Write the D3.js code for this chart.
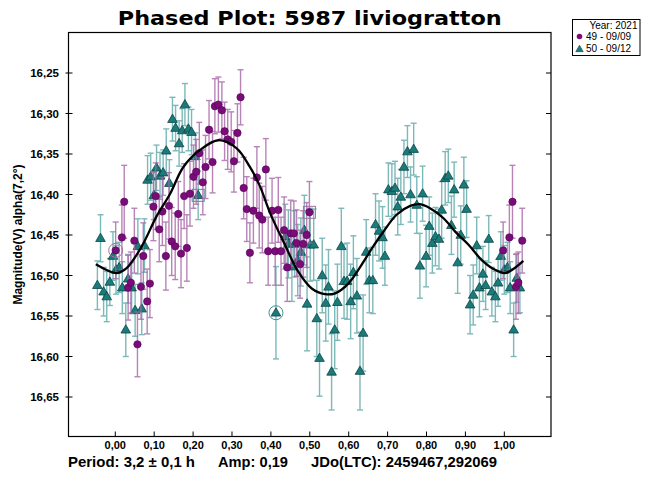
<!DOCTYPE html>
<html><head><meta charset="utf-8">
<script src="https://cdn.jsdelivr.net/npm/d3@7"></script>
<style>
html,body{margin:0;padding:0;background:#fff;}
text{font-family:"Liberation Sans",Arial,sans-serif;}
</style></head>
<body><svg id="c" width="649" height="478"></svg>
<script>
// ---- data ----
const titleText = "Phased Plot: 5987 liviogratton";
const yTicks = [16.25,16.30,16.35,16.40,16.45,16.50,16.55,16.60,16.65];
const xTicks = [0,0.1,0.2,0.3,0.4,0.5,0.6,0.7,0.8,0.9,1.0];
const legendTitle = "Year: 2021";
const seriesNames = ["49 - 09/09","50 - 09/12"];

// session 50 (teal triangles)
const phase50 = [-0.046,-0.038,-0.030,-0.022,-0.014,-0.006,0.002,0.010,0.018,0.027,0.033,0.042,0.051,0.058,0.068,0.075,0.083,0.091,0.099,0.106,0.115,0.123,0.131,0.139,0.147,0.155,0.164,0.172,0.179,0.188,0.196,0.206,0.213,
 0.413,0.437,0.445,0.454,0.461,0.469,0.477,0.486,0.493,0.501,0.510,0.518,0.525,0.532,0.541,0.548,0.556,0.564,0.571,0.581,0.588,0.596,0.605,0.612,0.621,0.629,0.637,0.645,0.653,0.662,0.669,0.678,0.687,0.693,0.702,0.711,0.719,0.726,0.734,0.742,0.751,0.759,0.767,0.775,0.783,0.790,0.799,0.807,0.815,0.823,0.832,0.839,0.848,0.856,0.864,0.871,0.880,0.888,0.896,0.903,0.912,0.920,0.929,0.936,0.945,0.952,0.960,0.968,0.977,0.984,0.991,1.000,1.008,1.015,1.024,1.032,1.040];
const mag50 = [16.512,16.454,16.520,16.526,16.508,16.476,16.493,16.490,16.515,16.567,16.504,16.515,16.543,16.464,16.541,16.463,16.382,16.378,16.401,16.367,16.377,16.373,16.346,16.386,16.307,16.318,16.337,16.321,16.289,16.319,16.323,16.353,16.401,
 16.546,16.452,16.461,16.489,16.461,16.481,16.471,16.444,16.535,16.462,16.462,16.553,16.602,16.500,16.534,16.514,16.619,16.567,16.533,16.464,16.507,16.507,16.532,16.496,16.525,16.618,16.571,16.471,16.506,16.506,16.437,16.445,16.453,16.476,16.394,16.396,16.392,16.415,16.403,16.366,16.347,16.400,16.344,16.413,16.488,16.399,16.476,16.439,16.460,16.452,16.455,16.419,16.380,16.377,16.438,16.394,16.484,16.450,16.388,16.418,16.536,16.524,16.463,16.515,16.498,16.512,16.455,16.520,16.526,16.509,16.476,16.493,16.490,16.515,16.567,16.503,16.515];
const err50 = [0.030,0.029,0.030,0.031,0.029,0.030,0.030,0.031,0.032,0.033,0.030,0.031,0.032,0.034,0.032,0.033,0.030,0.029,0.030,0.028,0.029,0.028,0.027,0.029,0.027,0.028,0.028,0.027,0.026,0.027,0.028,0.029,0.030,
 0.057,0.040,0.042,0.043,0.041,0.044,0.042,0.043,0.058,0.045,0.044,0.047,0.047,0.046,0.047,0.046,0.047,0.048,0.047,0.047,0.046,0.047,0.046,0.045,0.046,0.048,0.047,0.040,0.040,0.041,0.038,0.037,0.038,0.036,0.033,0.034,0.033,0.035,0.034,0.033,0.032,0.034,0.032,0.035,0.040,0.034,0.038,0.036,0.037,0.036,0.037,0.035,0.033,0.033,0.036,0.034,0.038,0.036,0.034,0.035,0.036,0.037,0.035,0.036,0.034,0.030,0.029,0.030,0.031,0.029,0.030,0.030,0.031,0.032,0.033,0.030,0.031];

// session 49 (purple circles)
const phase49 = [0.001,0.017,0.023,0.033,0.040,0.049,0.057,0.066,0.072,0.082,0.089,0.098,0.104,0.113,0.121,0.130,0.138,0.145,0.154,0.162,0.169,0.177,0.184,0.192,0.201,0.208,0.216,0.225,0.232,0.241,0.250,0.256,0.265,0.274,0.281,0.289,0.298,0.305,0.314,0.322,0.330,0.338,0.346,0.355,0.364,0.370,0.378,0.387,0.393,0.403,0.411,0.419,0.426,0.434,0.442,0.451,0.459,0.466,0.475,0.483,0.492,0.499,0.997,1.013,1.021,1.030,1.036,1.046];
const mag49 = [16.469,16.453,16.409,16.515,16.509,16.457,16.585,16.514,16.476,16.532,16.510,16.415,16.402,16.443,16.421,16.476,16.414,16.458,16.464,16.424,16.473,16.402,16.466,16.399,16.378,16.372,16.349,16.385,16.366,16.320,16.360,16.291,16.289,16.296,16.322,16.332,16.335,16.359,16.324,16.280,16.392,16.418,16.472,16.420,16.379,16.426,16.431,16.369,16.470,16.420,16.470,16.419,16.470,16.444,16.490,16.448,16.448,16.460,16.486,16.461,16.450,16.422,16.469,16.453,16.409,16.514,16.509,16.457];
const err49 = [0.035,0.040,0.045,0.040,0.038,0.040,0.040,0.040,0.041,0.040,0.042,0.042,0.041,0.040,0.042,0.042,0.041,0.042,0.041,0.040,0.042,0.040,0.041,0.040,0.039,0.040,0.038,0.040,0.039,0.036,0.038,0.034,0.034,0.035,0.036,0.037,0.037,0.038,0.036,0.034,0.038,0.040,0.037,0.040,0.038,0.040,0.041,0.038,0.042,0.040,0.042,0.040,0.042,0.041,0.042,0.041,0.040,0.041,0.042,0.041,0.040,0.038,0.035,0.040,0.045,0.040,0.038,0.040];

// highlighted points (index into arrays)
const ring49 = [0], square49 = [61];
const ring50 = [33], square50 = [32];

// fitted curve
const curvePhase = [-0.050,0.004,0.029,0.068,0.106,0.141,0.175,0.218,0.265,0.312,0.346,0.372,0.398,0.436,0.470,0.505,0.539,0.565,0.599,0.642,0.663,0.689,0.723,0.758,0.783,0.809,0.843,0.878,0.908,0.942,0.976,1.002,1.023,1.049];
const curveMag = [16.486,16.497,16.491,16.464,16.427,16.399,16.366,16.345,16.333,16.343,16.366,16.390,16.423,16.462,16.495,16.516,16.523,16.522,16.510,16.480,16.464,16.446,16.425,16.414,16.412,16.417,16.429,16.448,16.462,16.481,16.493,16.497,16.492,16.482];

const footer = ["Period: 3,2 \u00b1 0,1 h","Amp: 0,19","JDo(LTC): 2459467,292069"];

// ---- drawing ----
const svg = d3.select("#c");
const x = d3.scaleLinear().domain([-0.12,1.12]).range([68.6,551]);
const y = d3.scaleLinear().domain([16.20,16.70]).range([32.5,437.5]);
const fmt2 = v => d3.format(".2f")(v).replace(".", ",");

const L=68.5, R=551, T=32.5, B=436.5;

// title
svg.append("text").attr("x",(L+R)/2).attr("y",25).attr("text-anchor","middle")
  .style("font-family","'DejaVu Sans',sans-serif")
  .attr("font-size",19).attr("font-weight","bold").attr("fill","#000")
  .attr("textLength",384).attr("lengthAdjust","spacingAndGlyphs").text(titleText);

// axes ticks
const g = svg.append("g");
yTicks.forEach(v=>{
  g.append("line").attr("x1",L-3).attr("x2",L+4).attr("y1",y(v)).attr("y2",y(v)).attr("stroke","#000");
  g.append("line").attr("x1",R-5).attr("x2",R).attr("y1",y(v)).attr("y2",y(v)).attr("stroke","#000");
  g.append("text").attr("x",59).attr("y",y(v)).attr("dy","0.36em").attr("text-anchor","end")
   .attr("font-size",11.5).attr("font-weight","bold").text(fmt2(v));
});
xTicks.forEach(v=>{
  g.append("line").attr("x1",x(v)).attr("x2",x(v)).attr("y1",B).attr("y2",B-5).attr("stroke","#000");
  g.append("text").attr("x",x(v)).attr("y",449).attr("text-anchor","middle")
   .attr("font-size",11).attr("font-weight","bold").text(fmt2(v));
});

// y label
svg.append("text").attr("transform",`translate(22,${(T+B)/2}) rotate(-90)`).attr("text-anchor","middle")
  .attr("font-size",12).attr("font-weight","bold").text("Magnitude(V) alpha(7,2\u00b0)");

// series drawing helper
function drawSeries(ph, mg, er, barColor, isTri, fill, stroke, rings, squares, ringColor){
  const sg = svg.append("g");
  const d = ph.map((p,i)=>({p, m:mg[i], e:er[i], i}));
  const bars = sg.append("g").attr("stroke",barColor).attr("stroke-width",1.4).attr("opacity",0.8);
  d.forEach(o=>{
    const cx=x(o.p), y1=y(o.m-o.e), y2=y(o.m+o.e);
    bars.append("line").attr("x1",cx).attr("x2",cx).attr("y1",y1).attr("y2",y2);
    bars.append("line").attr("x1",cx-3).attr("x2",cx+3).attr("y1",y1).attr("y2",y1);
    bars.append("line").attr("x1",cx-3).attr("x2",cx+3).attr("y1",y2).attr("y2",y2);
  });
  const sym = d3.symbol().type(d3.symbolTriangle).size(40);
  d.forEach(o=>{
    if(isTri){
      sg.append("path").attr("d",sym()).attr("transform",`translate(${x(o.p)},${y(o.m)+0.5})`)
        .attr("fill",fill).attr("stroke",stroke).attr("stroke-width",0.8);
    } else {
      sg.append("circle").attr("cx",x(o.p)).attr("cy",y(o.m)).attr("r",3.7)
        .attr("fill",fill).attr("stroke",stroke).attr("stroke-width",0.6);
    }
  });
  rings.forEach(i=>{
    sg.append("circle").attr("cx",x(ph[i])).attr("cy",y(mg[i])).attr("r",7)
      .attr("fill","none").attr("stroke",ringColor).attr("stroke-width",1);
  });
  squares.forEach(i=>{
    sg.append("rect").attr("x",x(ph[i])-6).attr("y",y(mg[i])-6).attr("width",12).attr("height",12)
      .attr("fill","none").attr("stroke",ringColor).attr("stroke-width",1);
  });
}
drawSeries(phase50, mag50, err50, "#5ea8a8", true, "#1b7b7b", "#0a4545", ring50, square50, "#3f9292");
drawSeries(phase49, mag49, err49, "#a766a7", false, "#7a0c7a", "#560056", ring49, square49, "#a370a3");

// fitted curve
const line = d3.line().x((p,i)=>x(p)).y((p,i)=>y(curveMag[i])).curve(d3.curveCatmullRom);
svg.append("path").attr("d",line(curvePhase)).attr("fill","none").attr("stroke","#000").attr("stroke-width",2.3);

// frame
svg.append("rect").attr("x",L).attr("y",T).attr("width",R-L).attr("height",B-T)
  .attr("fill","none").attr("stroke","#000").attr("stroke-width",1.2);

// legend
const lg = svg.append("g");
lg.append("rect").attr("x",572.5).attr("y",19.5).attr("width",67.5).attr("height",36)
  .attr("fill","#fff").attr("stroke","#000").attr("stroke-width",1);
lg.append("text").attr("x",637.5).attr("y",29).attr("text-anchor","end").attr("font-size",10).text(legendTitle);
lg.append("circle").attr("cx",579.5).attr("cy",36.5).attr("r",2.8).attr("fill","#7a0c7a");
lg.append("text").attr("x",586).attr("y",40).attr("font-size",10).text(seriesNames[0]);
lg.append("path").attr("d",d3.symbol().type(d3.symbolTriangle).size(24)()).attr("transform","translate(579.5,49.5)")
  .attr("fill","#1b7b7b").attr("stroke","#0a4545").attr("stroke-width",0.6);
lg.append("text").attr("x",586).attr("y",51.5).attr("font-size",10).text(seriesNames[1]);

// footer
const fx = [68, 218, 311];
const fw = [127, 70, 186];
footer.forEach((t,i)=>{
  svg.append("text").attr("x",fx[i]).attr("y",467).attr("font-size",14).attr("font-weight","bold")
    .attr("textLength",fw[i]).attr("lengthAdjust","spacingAndGlyphs").text(t);
});
</script></body></html>
